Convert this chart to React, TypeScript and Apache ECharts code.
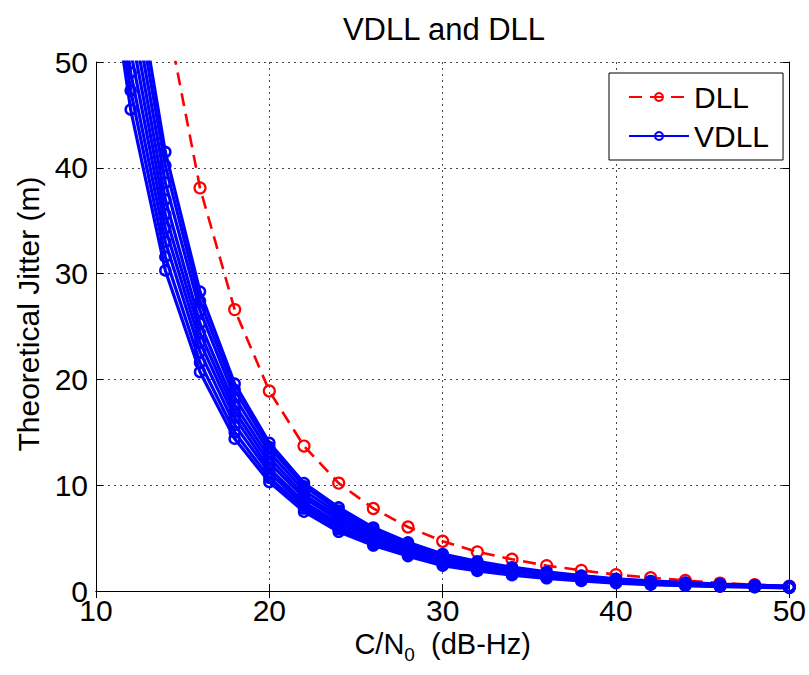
import React, { useEffect, useRef } from "react";
import * as echarts from "echarts";

const cn0 = [10, 12, 14, 16, 18, 20, 22, 24, 26, 28, 30, 32, 34, 36, 38, 40, 42, 44, 46, 48, 50];

const dll = [120, 80, 55, 38.1, 26.6, 18.9, 13.7, 10.2, 7.8, 6.05, 4.7, 3.7, 3.0, 2.4, 1.95, 1.55, 1.25, 1.0, 0.75, 0.6, 0.45];

const vdll1 = [90, 61, 41.5, 28.3, 19.6, 14.0, 10.2, 7.9, 6.0, 4.6, 3.5, 2.8, 2.25, 1.8, 1.45, 1.15, 0.95, 0.8, 0.65, 0.55, 0.45];
const vdll2 = [88, 59, 40.2, 27.4, 19.0, 13.6, 9.9, 7.6, 5.8, 4.45, 3.4, 2.7, 2.15, 1.72, 1.4, 1.1, 0.9, 0.76, 0.62, 0.52, 0.43];
const vdll3 = [85, 57, 38.6, 26.5, 18.3, 13.1, 9.5, 7.3, 5.55, 4.3, 3.25, 2.6, 2.05, 1.65, 1.32, 1.05, 0.86, 0.72, 0.59, 0.5, 0.41];
const vdll4 = [82, 55, 37.0, 25.3, 17.6, 12.6, 9.1, 7.0, 5.3, 4.1, 3.1, 2.45, 1.95, 1.57, 1.26, 1.0, 0.82, 0.68, 0.56, 0.47, 0.39];
const vdll5 = [79, 53, 35.6, 24.4, 17.0, 12.1, 8.8, 6.7, 5.1, 3.9, 2.95, 2.35, 1.87, 1.5, 1.2, 0.95, 0.78, 0.65, 0.53, 0.45, 0.37];
const vdll6 = [76, 51, 34.3, 23.5, 16.4, 11.6, 8.4, 6.4, 4.9, 3.75, 2.85, 2.25, 1.78, 1.42, 1.14, 0.9, 0.74, 0.61, 0.5, 0.43, 0.35];
const vdll7 = [73, 49, 33.0, 22.6, 15.7, 11.2, 8.1, 6.1, 4.65, 3.6, 2.7, 2.15, 1.7, 1.35, 1.08, 0.86, 0.7, 0.58, 0.48, 0.41, 0.34];
const vdll8 = [70, 47.3, 31.6, 21.6, 15.0, 10.7, 7.8, 5.85, 4.45, 3.45, 2.55, 2.0, 1.6, 1.27, 1.02, 0.8, 0.65, 0.54, 0.45, 0.38, 0.32];
const vdll9 = [68, 45.5, 30.3, 20.7, 14.4, 10.3, 7.5, 5.6, 4.3, 3.3, 2.4, 1.9, 1.5, 1.2, 0.95, 0.75, 0.6, 0.5, 0.42, 0.36, 0.3];

const vdllSets = [vdll1, vdll2, vdll3, vdll4, vdll5, vdll6, vdll7, vdll8, vdll9];

const FONT = "'Liberation Sans', Arial, Helvetica, sans-serif";

export default function App() {
  const ref = useRef<HTMLDivElement>(null);
  useEffect(() => {
    if (!ref.current) return;
    const chart = echarts.init(ref.current, null, { renderer: "svg" });
    const pair = (ys: number[]) => cn0.map((x, i) => [x, ys[i]]);
    const vdllSeries = vdllSets.map((ys) => ({
      name: "VDLL",
      type: "line",
      data: pair(ys),
      clip: true,
      symbol: "circle",
      symbolSize: 10,
      lineStyle: { color: "#0000ff", width: 3.2 },
      itemStyle: { color: "rgba(0,0,0,0)", borderColor: "#0000ff", borderWidth: 2.5 },
      z: 3,
    }));
    const option: any = {
      animation: false,
      backgroundColor: "#ffffff",
      textStyle: { fontFamily: FONT },
      title: {
        text: "VDLL and DLL",
        left: 439,
        textAlign: "center",
        top: 9,
        textStyle: { fontFamily: FONT, fontSize: 31, fontWeight: "normal", color: "#000" },
      },
      legend: {
        orient: "vertical",
        left: 609,
        top: 73,
        data: ["DLL", "VDLL"],
        backgroundColor: "#ffffff",
        borderColor: "#000",
        borderWidth: 1,
        borderRadius: 0,
        padding: [9, 14, 9, 19],
        itemGap: 9,
        itemWidth: 60,
        itemHeight: 10,
        textStyle: { fontFamily: FONT, fontSize: 30, color: "#000" },
      },
      graphic: [
        {
          type: "text",
          x: 28,
          y: 314,
          rotation: Math.PI / 2,
          style: {
            text: "Theoretical Jitter (m)",
            font: `30px ${FONT}`,
            fill: "#000",
            textAlign: "center",
            textVerticalAlign: "middle",
          },
        },
      ],
      grid: { left: 96, right: 19, top: 62, bottom: 84, containLabel: false },
      xAxis: [
        {
          type: "value",
          min: 10,
          max: 50,
          interval: 10,
          name: "{a|C/N}{b|0}{a|  (dB-Hz)}",
          nameLocation: "middle",
          nameGap: 18,
          nameTextStyle: {
            rich: {
              a: { fontFamily: FONT, fontSize: 29, color: "#000" },
              b: { fontFamily: FONT, fontSize: 19, color: "#000", padding: [20, 0, 0, 0] },
            },
          },
          axisLine: { show: true, lineStyle: { color: "#000", width: 1 } },
          axisTick: { show: true, inside: true, length: 7, lineStyle: { color: "#000" } },
          axisLabel: { fontFamily: FONT, fontSize: 30, color: "#000", margin: 4 },
          splitLine: { show: true, lineStyle: { color: "#444", type: [2, 4], width: 1 } },
        },
        {
          type: "value",
          position: "top",
          min: 10,
          max: 50,
          interval: 10,
          axisLine: { show: true, lineStyle: { color: "#000", width: 1 } },
          axisTick: { show: true, inside: true, length: 7, lineStyle: { color: "#000" } },
          axisLabel: { show: false },
          splitLine: { show: false },
        },
      ],
      yAxis: [
        {
          type: "value",
          min: 0,
          max: 50,
          interval: 10,
          axisLine: { show: true, lineStyle: { color: "#000", width: 1 } },
          axisTick: { show: true, inside: true, length: 7, lineStyle: { color: "#000" } },
          axisLabel: { fontFamily: FONT, fontSize: 30, color: "#000", margin: 8 },
          splitLine: { show: true, lineStyle: { color: "#444", type: [2, 4], width: 1 } },
        },
        {
          type: "value",
          position: "right",
          min: 0,
          max: 50,
          interval: 10,
          axisLine: { show: true, lineStyle: { color: "#000", width: 1 } },
          axisTick: { show: true, inside: true, length: 7, lineStyle: { color: "#000" } },
          axisLabel: { show: false },
          splitLine: { show: false },
        },
      ],
      series: [
        {
          name: "DLL",
          type: "line",
          data: pair(dll),
          clip: true,
          symbol: "circle",
          symbolSize: 11,
          lineStyle: { color: "#ff0000", width: 2.6, type: [13, 8] },
          itemStyle: { color: "rgba(0,0,0,0)", borderColor: "#ff0000", borderWidth: 2.2 },
          z: 2,
        },
        ...vdllSeries,
      ],
    };
    chart.setOption(option);
    return () => chart.dispose();
  }, []);
  return (
    <div
      ref={ref}
      style={{ position: "fixed", left: 0, top: 0, width: 809, height: 675, background: "#fff" }}
    />
  );
}
